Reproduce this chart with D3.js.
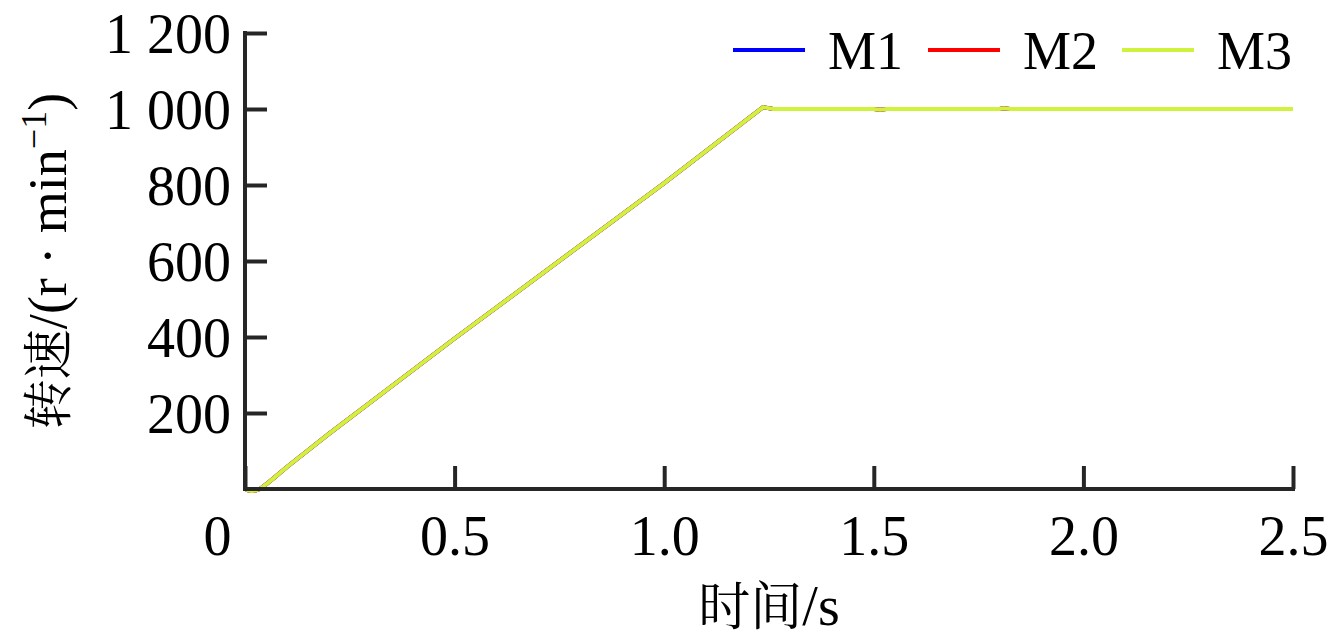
<!DOCTYPE html>
<html><head><meta charset="utf-8">
<script src="https://cdn.jsdelivr.net/npm/d3@7"></script>
<style>body{margin:0;background:#fff}svg{display:block}</style>
</head><body>
<svg id="c" width="1330" height="644"></svg>
<script>
const seriesNames = ["M1","M2","M3"];
const seriesColors = ["#0000ff","#ff0000","#cff23c"];
const time = [0,0.008,0.016,0.025,0.035,0.05,0.07,0.1,0.2,0.5,1.0,1.236,1.26,1.5,1.515,1.53,1.8,1.81,1.825,2.5];
const m1   = [0,-4,-5,-4,0,12,30,58,145,396,805,1005,1000,1000,998,1000,1000,1002,1000,1000];
const m2   = [0,-4,-5,-4,0,12,30,58,145,396,805,1005,1000,1000,998,1000,1000,1002,1000,1000];
const m3   = [0,-4,-5,-4,0,12,30,58,145,396,805,1005,1000,1000,998,1000,1000,1002,1000,1000];
const xTicks = [0,0.5,1.0,1.5,2.0,2.5];
const xTickLabels = ["0","0.5","1.0","1.5","2.0","2.5"];
const yTicks = [200,400,600,800,1000,1200];
const yTickLabels = ["200","400","600","800","1 000","1 200"];

const svg = d3.select("#c");
const L = 245, R = 1293, T = 33, B = 489;
const x = d3.scaleLinear().domain([0,2.5]).range([L,R]);
const y = d3.scaleLinear().domain([0,1200]).range([B,T]);
const axisColor = "#262626";
const font = "'Liberation Serif','Times New Roman',serif";
const cjk = "'Noto Serif CJK SC','Noto Sans CJK SC',serif";

// data lines
const all = [m1,m2,m3];
const line = d3.line().x((d,i)=>x(time[i])).y(d=>y(d)).curve(d3.curveLinear);
all.forEach((s,k)=>{
  svg.append("path").datum(s).attr("d",line).attr("fill","none")
    .attr("stroke",seriesColors[k]).attr("stroke-width",4).attr("stroke-linejoin","round");
});

// axes
const xAxis = d3.axisBottom(x).tickValues(xTicks).tickSize(-23).tickFormat((d,i)=>xTickLabels[i]).tickPadding(38);
const gx = svg.append("g").attr("transform",`translate(0,${B})`).call(xAxis);
gx.select(".domain").attr("d",`M${L},0H${R}`);
const yAxis = d3.axisLeft(y).tickValues(yTicks).tickSize(-22).tickFormat((d,i)=>yTickLabels[i]).tickPadding(37);
const gy = svg.append("g").attr("transform",`translate(${L},0)`).call(yAxis);
gy.select(".domain").attr("d",`M0,${T}V${B}`);
[gx,gy].forEach(g=>{
  g.selectAll(".domain").attr("stroke",axisColor).attr("stroke-width",4).attr("stroke-linecap","square");
  g.selectAll(".tick line").attr("stroke",axisColor).attr("stroke-width",4);
  g.selectAll("text").attr("fill","#000").style("font-family",font).style("font-size","56px");
});
gx.selectAll(".tick text").attr("dy","0.71em").attr("y",26);
gx.selectAll(".tick").filter(d=>d===0).select("text").attr("text-anchor","end").attr("x",-14);
gy.selectAll(".tick text").attr("x",-14).attr("dy","0.35em");

// axis titles
const xt = svg.append("text").attr("x",(L+R)/2).attr("y",625).attr("text-anchor","middle")
  .style("font-family",font).style("font-size","56px").attr("fill","#000");
xt.append("tspan").style("font-family",cjk).attr("font-size",52).text("时间");
xt.append("tspan").text("/s");
const yt = svg.append("text").attr("transform",`translate(66,${(T+B)/2}) rotate(-90)`)
  .attr("text-anchor","middle").style("font-family",font).style("font-size","54px").attr("fill","#000");
yt.append("tspan").style("font-family",cjk).attr("font-size",50).text("转速");
yt.append("tspan").text("/(r · min");
yt.append("tspan").attr("dy",-20).attr("font-size",36).text("−1");
yt.append("tspan").attr("dy",20).text(")");

// legend
const legX = [733,928,1122];
seriesNames.forEach((n,k)=>{
  svg.append("line").attr("x1",legX[k]).attr("x2",legX[k]+72).attr("y1",50).attr("y2",50)
    .attr("stroke",seriesColors[k]).attr("stroke-width",4);
  svg.append("text").attr("x",legX[k]+95).attr("y",69).text(n)
    .style("font-family",font).style("font-size","54px").attr("fill","#000");
});
</script>
</body></html>
